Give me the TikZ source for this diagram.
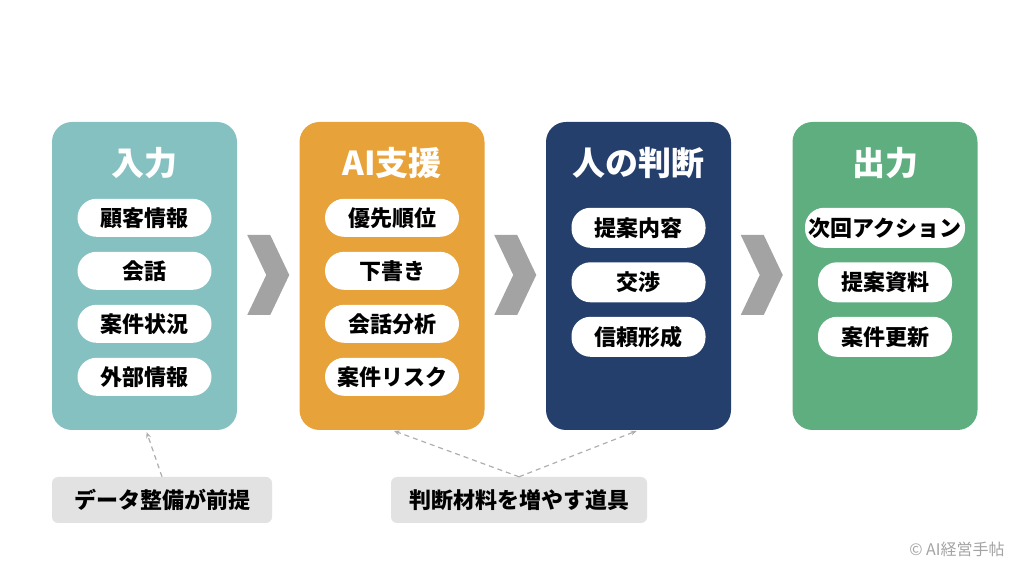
\documentclass[tikz,border=0pt]{standalone}
\usepackage{fontspec}
\setmainfont{Noto Sans CJK JP}
\usetikzlibrary{arrows.meta, positioning, calc}

\definecolor{inColor}{HTML}{86C1C2}
\definecolor{aiColor}{HTML}{E8A23A}
\definecolor{humanColor}{HTML}{243F6B}
\definecolor{outColor}{HTML}{5EAE7F}
\definecolor{chevColor}{HTML}{A3A3A3}
\definecolor{noteColor}{HTML}{E2E2E2}
\definecolor{dashColor}{HTML}{AFAFAF}

\newcommand{\chevron}[1]{%
  \fill[chevColor] (#1) ++(-21,40) -- ++(23,0) -- ++(19,-40) -- ++(-19,-40)
    -- ++(-23,0) -- ++(19,40) -- cycle;}

\begin{document}
\begin{tikzpicture}[
        x = 1pt, y = 1pt,
        on grid,
        node distance = 53pt,
        >= {Stealth[length = 6pt, width = 5pt]},
        stage/.style = {rounded corners = 20pt, minimum width = 185pt,
                        minimum height = 308pt, inner sep = 0pt},
        heading/.style = {text = white, font = \fontsize{33}{33}\selectfont\bfseries},
        pill/.style = {fill = white, rounded corners = 19pt, minimum width = 134pt,
                       minimum height = 38pt, inner sep = 0pt,
                       font = \fontsize{22}{22}\selectfont\bfseries},
        note/.style = {fill = noteColor, rounded corners = 6pt, minimum height = 46pt,
                       inner sep = 0pt, font = \fontsize{22}{22}\selectfont\bfseries},
        hint/.style = {->, dashColor, line width = 1.2pt, dash pattern = on 5pt off 4pt,
                       shorten >= 2pt}
    ]

    \useasboundingbox (0,0) rectangle (1024,572);

    % four stages
    \node[stage, fill = inColor] (in) at (144.5,296) {};
    \node[stage, fill = aiColor] (ai) at (392,296) {};
    \node[stage, fill = humanColor] (human) at (638.5,296) {};
    \node[stage, fill = outColor] (out) at (885,296) {};

    % input
    \node[heading] (in_t) at ($(in.north)+(0,-41)$) {入力};
    \node[pill, below = 55pt of in_t] (in_1) {顧客情報};
    \node[pill, below = of in_1] (in_2) {会話};
    \node[pill, below = of in_2] (in_3) {案件状況};
    \node[pill, below = of in_3] (in_4) {外部情報};

    % AI support
    \node[heading] (ai_t) at ($(ai.north)+(0,-41)$) {AI支援};
    \node[pill, below = 55pt of ai_t] (ai_1) {優先順位};
    \node[pill, below = of ai_1] (ai_2) {下書き};
    \node[pill, below = of ai_2] (ai_3) {会話分析};
    \node[pill, below = of ai_3] (ai_4) {案件リスク};

    % human judgement
    \node[heading] (human_t) at ($(human.north)+(0,-41)$) {人の判断};
    \node[pill, minimum height = 40pt, below = 65pt of human_t] (human_1) {提案内容};
    \node[pill, minimum height = 40pt, below = 54.5pt of human_1] (human_2) {交渉};
    \node[pill, minimum height = 40pt, below = 54.5pt of human_2] (human_3) {信頼形成};

    % output
    \node[heading] (out_t) at ($(out.north)+(0,-41)$) {出力};
    \node[pill, minimum height = 40pt, minimum width = 160pt,
          below = 65pt of out_t] (out_1) {次回アクション};
    \node[pill, minimum height = 40pt, below = 54.5pt of out_1] (out_2) {提案資料};
    \node[pill, minimum height = 40pt, below = 54.5pt of out_2] (out_3) {案件更新};

    % chevrons between stages
    \chevron{$(in.east)!0.5!(ai.west)+(0,1)$}
    \chevron{$(ai.east)!0.5!(human.west)+(0,1)$}
    \chevron{$(human.east)!0.5!(out.west)+(0,1)$}

    % notes
    \node[note, minimum width = 220pt] (data) at (162,72) {データ整備が前提};
    \node[note, minimum width = 256pt] (tool) at (519,72) {判断材料を増やす道具};

    \draw[hint] (data.north) -- ($(in.south)+(1.5,0)$);
    \draw[hint] (tool.north) -- (ai.south);
    \draw[hint] (tool.north) -- (human.south);

    \node[text = chevColor, font = \fontsize{16}{16}\selectfont] (credit) at (957,23) {© AI経営手帖};

\end{tikzpicture}
\end{document}
